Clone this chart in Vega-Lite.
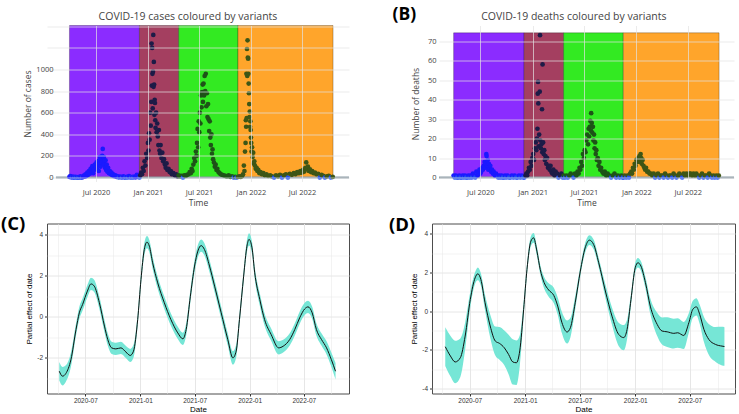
{
"$schema": "https://vega.github.io/schema/vega-lite/v6.json",
"padding": {"top": 5.5, "left": 0, "right": 0, "bottom": 0},
"background": "white",
"config": {"view": {"stroke": null}},
"datasets": {
"variants": [
{"v":"W","s":"2020-03-29","e":"2020-12-02"},
{"v":"A","s":"2020-12-02","e":"2021-04-20"},
{"v":"D","s":"2021-04-20","e":"2021-11-16"},
{"v":"O","s":"2021-11-16","e":"2022-10-19"}
],
"cases": [
{"d":"2020-03-29","c":5,"v":"W"},{"d":"2020-04-01","c":12,"v":"W"},{"d":"2020-04-04","c":3,"v":"W"},{"d":"2020-04-07","c":0,"v":"W"},{"d":"2020-04-10","c":8,"v":"W"},{"d":"2020-04-13","c":2,"v":"W"},{"d":"2020-04-16","c":0,"v":"W"},{"d":"2020-04-19","c":6,"v":"W"},{"d":"2020-04-22","c":0,"v":"W"},{"d":"2020-04-25","c":4,"v":"W"},{"d":"2020-04-28","c":0,"v":"W"},{"d":"2020-05-01","c":3,"v":"W"},{"d":"2020-05-04","c":0,"v":"W"},{"d":"2020-05-07","c":10,"v":"W"},{"d":"2020-05-10","c":2,"v":"W"},{"d":"2020-05-13","c":0,"v":"W"},{"d":"2020-05-16","c":5,"v":"W"},{"d":"2020-05-19","c":18,"v":"W"},{"d":"2020-05-22","c":8,"v":"W"},{"d":"2020-05-25","c":30,"v":"W"},{"d":"2020-05-28","c":15,"v":"W"},{"d":"2020-05-31","c":45,"v":"W"},{"d":"2020-06-03","c":25,"v":"W"},{"d":"2020-06-06","c":60,"v":"W"},{"d":"2020-06-09","c":35,"v":"W"},{"d":"2020-06-12","c":80,"v":"W"},{"d":"2020-06-15","c":50,"v":"W"},{"d":"2020-06-18","c":105,"v":"W"},{"d":"2020-06-21","c":40,"v":"W"},{"d":"2020-06-24","c":70,"v":"W"},{"d":"2020-06-27","c":120,"v":"W"},{"d":"2020-06-30","c":90,"v":"W"},{"d":"2020-07-03","c":140,"v":"W"},{"d":"2020-07-05","c":75,"v":"W"},{"d":"2020-07-07","c":110,"v":"W"},{"d":"2020-07-09","c":155,"v":"W"},{"d":"2020-07-11","c":60,"v":"W"},{"d":"2020-07-13","c":130,"v":"W"},{"d":"2020-07-15","c":190,"v":"W"},{"d":"2020-07-17","c":100,"v":"W"},{"d":"2020-07-19","c":170,"v":"W"},{"d":"2020-07-21","c":140,"v":"W"},{"d":"2020-07-23","c":200,"v":"W"},{"d":"2020-07-25","c":265,"v":"W"},{"d":"2020-07-27","c":120,"v":"W"},{"d":"2020-07-29","c":190,"v":"W"},{"d":"2020-07-31","c":150,"v":"W"},{"d":"2020-08-02","c":90,"v":"W"},{"d":"2020-08-04","c":160,"v":"W"},{"d":"2020-08-06","c":70,"v":"W"},{"d":"2020-08-08","c":120,"v":"W"},{"d":"2020-08-10","c":55,"v":"W"},{"d":"2020-08-13","c":90,"v":"W"},{"d":"2020-08-16","c":40,"v":"W"},{"d":"2020-08-19","c":60,"v":"W"},{"d":"2020-08-22","c":30,"v":"W"},{"d":"2020-08-25","c":45,"v":"W"},{"d":"2020-08-28","c":20,"v":"W"},{"d":"2020-08-31","c":30,"v":"W"},{"d":"2020-09-04","c":12,"v":"W"},{"d":"2020-09-08","c":20,"v":"W"},{"d":"2020-09-12","c":5,"v":"W"},{"d":"2020-09-16","c":10,"v":"W"},{"d":"2020-09-20","c":0,"v":"W"},{"d":"2020-09-24","c":8,"v":"W"},{"d":"2020-09-28","c":3,"v":"W"},{"d":"2020-10-02","c":0,"v":"W"},{"d":"2020-10-06","c":10,"v":"W"},{"d":"2020-10-10","c":2,"v":"W"},{"d":"2020-10-14","c":0,"v":"W"},{"d":"2020-10-18","c":5,"v":"W"},{"d":"2020-10-22","c":0,"v":"W"},{"d":"2020-10-26","c":12,"v":"W"},{"d":"2020-10-30","c":3,"v":"W"},{"d":"2020-11-03","c":0,"v":"W"},{"d":"2020-11-07","c":6,"v":"W"},{"d":"2020-11-11","c":0,"v":"W"},{"d":"2020-11-15","c":9,"v":"W"},{"d":"2020-11-19","c":2,"v":"W"},{"d":"2020-11-23","c":25,"v":"W"},{"d":"2020-11-27","c":5,"v":"W"},
{"d":"2020-12-02","c":0,"v":"A"},{"d":"2020-12-05","c":20,"v":"A"},{"d":"2020-12-08","c":45,"v":"A"},{"d":"2020-12-11","c":30,"v":"A"},{"d":"2020-12-14","c":90,"v":"A"},{"d":"2020-12-17","c":60,"v":"A"},{"d":"2020-12-20","c":150,"v":"A"},{"d":"2020-12-23","c":110,"v":"A"},{"d":"2020-12-26","c":220,"v":"A"},{"d":"2020-12-29","c":180,"v":"A"},{"d":"2021-01-01","c":320,"v":"A"},{"d":"2021-01-03","c":250,"v":"A"},{"d":"2021-01-05","c":410,"v":"A"},{"d":"2021-01-07","c":350,"v":"A"},{"d":"2021-01-09","c":600,"v":"A"},{"d":"2021-01-11","c":480,"v":"A"},{"d":"2021-01-13","c":700,"v":"A"},{"d":"2021-01-14","c":1240,"v":"A"},{"d":"2021-01-15","c":850,"v":"A"},{"d":"2021-01-16","c":1200,"v":"A"},{"d":"2021-01-17","c":960,"v":"A"},{"d":"2021-01-18","c":640,"v":"A"},{"d":"2021-01-19","c":980,"v":"A"},{"d":"2021-01-20","c":1320,"v":"A"},{"d":"2021-01-21","c":840,"v":"A"},{"d":"2021-01-22","c":1070,"v":"A"},{"d":"2021-01-23","c":860,"v":"A"},{"d":"2021-01-24","c":580,"v":"A"},{"d":"2021-01-25","c":720,"v":"A"},{"d":"2021-01-26","c":690,"v":"A"},{"d":"2021-01-27","c":530,"v":"A"},{"d":"2021-01-28","c":460,"v":"A"},{"d":"2021-01-30","c":600,"v":"A"},{"d":"2021-02-01","c":420,"v":"A"},{"d":"2021-02-03","c":500,"v":"A"},{"d":"2021-02-05","c":380,"v":"A"},{"d":"2021-02-07","c":300,"v":"A"},{"d":"2021-02-09","c":440,"v":"A"},{"d":"2021-02-11","c":250,"v":"A"},{"d":"2021-02-13","c":220,"v":"A"},{"d":"2021-02-15","c":300,"v":"A"},{"d":"2021-02-18","c":180,"v":"A"},{"d":"2021-02-21","c":230,"v":"A"},{"d":"2021-02-24","c":150,"v":"A"},{"d":"2021-02-27","c":170,"v":"A"},{"d":"2021-03-02","c":120,"v":"A"},{"d":"2021-03-05","c":90,"v":"A"},{"d":"2021-03-08","c":130,"v":"A"},{"d":"2021-03-11","c":70,"v":"A"},{"d":"2021-03-15","c":80,"v":"A"},{"d":"2021-03-19","c":50,"v":"A"},{"d":"2021-03-23","c":60,"v":"A"},{"d":"2021-03-27","c":30,"v":"A"},{"d":"2021-04-01","c":40,"v":"A"},{"d":"2021-04-06","c":20,"v":"A"},{"d":"2021-04-11","c":30,"v":"A"},{"d":"2021-04-16","c":10,"v":"A"},
{"d":"2021-04-20","c":20,"v":"D"},{"d":"2021-04-25","c":10,"v":"D"},{"d":"2021-04-30","c":15,"v":"D"},{"d":"2021-05-05","c":0,"v":"D"},{"d":"2021-05-10","c":20,"v":"D"},{"d":"2021-05-15","c":15,"v":"D"},{"d":"2021-05-20","c":25,"v":"D"},{"d":"2021-05-25","c":30,"v":"D"},{"d":"2021-05-29","c":50,"v":"D"},{"d":"2021-06-02","c":40,"v":"D"},{"d":"2021-06-05","c":80,"v":"D"},{"d":"2021-06-08","c":60,"v":"D"},{"d":"2021-06-11","c":120,"v":"D"},{"d":"2021-06-14","c":180,"v":"D"},{"d":"2021-06-17","c":150,"v":"D"},{"d":"2021-06-20","c":240,"v":"D"},{"d":"2021-06-22","c":200,"v":"D"},{"d":"2021-06-24","c":320,"v":"D"},{"d":"2021-06-26","c":450,"v":"D"},{"d":"2021-06-28","c":280,"v":"D"},{"d":"2021-06-30","c":520,"v":"D"},{"d":"2021-07-02","c":420,"v":"D"},{"d":"2021-07-04","c":600,"v":"D"},{"d":"2021-07-06","c":500,"v":"D"},{"d":"2021-07-08","c":760,"v":"D"},{"d":"2021-07-10","c":650,"v":"D"},{"d":"2021-07-12","c":790,"v":"D"},{"d":"2021-07-14","c":860,"v":"D"},{"d":"2021-07-15","c":700,"v":"D"},{"d":"2021-07-17","c":870,"v":"D"},{"d":"2021-07-19","c":760,"v":"D"},{"d":"2021-07-21","c":940,"v":"D"},{"d":"2021-07-23","c":800,"v":"D"},{"d":"2021-07-25","c":960,"v":"D"},{"d":"2021-07-27","c":660,"v":"D"},{"d":"2021-07-29","c":780,"v":"D"},{"d":"2021-07-31","c":560,"v":"D"},{"d":"2021-08-02","c":680,"v":"D"},{"d":"2021-08-04","c":540,"v":"D"},{"d":"2021-08-06","c":430,"v":"D"},{"d":"2021-08-08","c":520,"v":"D"},{"d":"2021-08-10","c":370,"v":"D"},{"d":"2021-08-12","c":300,"v":"D"},{"d":"2021-08-14","c":400,"v":"D"},{"d":"2021-08-16","c":220,"v":"D"},{"d":"2021-08-18","c":260,"v":"D"},{"d":"2021-08-20","c":170,"v":"D"},{"d":"2021-08-23","c":140,"v":"D"},{"d":"2021-08-26","c":100,"v":"D"},{"d":"2021-08-29","c":120,"v":"D"},{"d":"2021-09-01","c":70,"v":"D"},{"d":"2021-09-04","c":80,"v":"D"},{"d":"2021-09-08","c":50,"v":"D"},{"d":"2021-09-12","c":40,"v":"D"},{"d":"2021-09-16","c":30,"v":"D"},{"d":"2021-09-21","c":25,"v":"D"},{"d":"2021-09-26","c":20,"v":"D"},{"d":"2021-10-02","c":15,"v":"D"},{"d":"2021-10-08","c":10,"v":"D"},{"d":"2021-10-14","c":20,"v":"D"},{"d":"2021-10-20","c":5,"v":"D"},{"d":"2021-10-26","c":10,"v":"D"},{"d":"2021-11-01","c":0,"v":"D"},{"d":"2021-11-06","c":5,"v":"D"},{"d":"2021-11-11","c":0,"v":"D"},
{"d":"2021-11-16","c":5,"v":"O"},{"d":"2021-11-21","c":10,"v":"O"},{"d":"2021-11-26","c":5,"v":"O"},{"d":"2021-12-01","c":15,"v":"O"},{"d":"2021-12-04","c":30,"v":"O"},{"d":"2021-12-07","c":110,"v":"O"},{"d":"2021-12-09","c":60,"v":"O"},{"d":"2021-12-11","c":240,"v":"O"},{"d":"2021-12-13","c":320,"v":"O"},{"d":"2021-12-14","c":530,"v":"O"},{"d":"2021-12-15","c":470,"v":"O"},{"d":"2021-12-16","c":960,"v":"O"},{"d":"2021-12-17","c":550,"v":"O"},{"d":"2021-12-18","c":1190,"v":"O"},{"d":"2021-12-19","c":940,"v":"O"},{"d":"2021-12-20","c":1270,"v":"O"},{"d":"2021-12-21","c":1110,"v":"O"},{"d":"2021-12-22","c":1100,"v":"O"},{"d":"2021-12-23","c":960,"v":"O"},{"d":"2021-12-24","c":870,"v":"O"},{"d":"2021-12-25","c":780,"v":"O"},{"d":"2021-12-26","c":680,"v":"O"},{"d":"2021-12-27","c":560,"v":"O"},{"d":"2021-12-28","c":610,"v":"O"},{"d":"2021-12-29","c":470,"v":"O"},{"d":"2021-12-30","c":520,"v":"O"},{"d":"2021-12-31","c":440,"v":"O"},{"d":"2022-01-01","c":370,"v":"O"},{"d":"2022-01-02","c":320,"v":"O"},{"d":"2022-01-03","c":240,"v":"O"},{"d":"2022-01-05","c":280,"v":"O"},{"d":"2022-01-07","c":190,"v":"O"},{"d":"2022-01-09","c":230,"v":"O"},{"d":"2022-01-11","c":130,"v":"O"},{"d":"2022-01-13","c":150,"v":"O"},{"d":"2022-01-15","c":110,"v":"O"},{"d":"2022-01-18","c":80,"v":"O"},{"d":"2022-01-21","c":90,"v":"O"},{"d":"2022-01-24","c":60,"v":"O"},{"d":"2022-01-27","c":70,"v":"O"},{"d":"2022-01-31","c":40,"v":"O"},{"d":"2022-02-04","c":50,"v":"O"},{"d":"2022-02-09","c":30,"v":"O"},{"d":"2022-02-14","c":40,"v":"O"},{"d":"2022-02-19","c":20,"v":"O"},{"d":"2022-02-25","c":30,"v":"O"},{"d":"2022-03-03","c":15,"v":"O"},{"d":"2022-03-10","c":20,"v":"O"},{"d":"2022-03-17","c":10,"v":"O"},{"d":"2022-03-24","c":0,"v":"O"},{"d":"2022-03-31","c":20,"v":"O"},{"d":"2022-04-07","c":10,"v":"O"},{"d":"2022-04-14","c":25,"v":"O"},{"d":"2022-04-21","c":0,"v":"O"},{"d":"2022-04-28","c":20,"v":"O"},{"d":"2022-05-05","c":30,"v":"O"},{"d":"2022-05-12","c":0,"v":"O"},{"d":"2022-05-19","c":35,"v":"O"},{"d":"2022-05-26","c":25,"v":"O"},{"d":"2022-06-02","c":40,"v":"O"},{"d":"2022-06-08","c":30,"v":"O"},{"d":"2022-06-14","c":50,"v":"O"},{"d":"2022-06-20","c":40,"v":"O"},{"d":"2022-06-25","c":60,"v":"O"},{"d":"2022-06-30","c":45,"v":"O"},{"d":"2022-07-05","c":70,"v":"O"},{"d":"2022-07-09","c":55,"v":"O"},{"d":"2022-07-13","c":90,"v":"O"},{"d":"2022-07-16","c":140,"v":"O"},{"d":"2022-07-19","c":80,"v":"O"},{"d":"2022-07-22","c":100,"v":"O"},{"d":"2022-07-25","c":60,"v":"O"},{"d":"2022-07-29","c":75,"v":"O"},{"d":"2022-08-02","c":50,"v":"O"},{"d":"2022-08-06","c":60,"v":"O"},{"d":"2022-08-11","c":40,"v":"O"},{"d":"2022-08-16","c":45,"v":"O"},{"d":"2022-08-21","c":30,"v":"O"},{"d":"2022-08-27","c":35,"v":"O"},{"d":"2022-09-02","c":0,"v":"O"},{"d":"2022-09-08","c":25,"v":"O"},{"d":"2022-09-14","c":15,"v":"O"},{"d":"2022-09-20","c":0,"v":"O"},{"d":"2022-09-27","c":10,"v":"O"},{"d":"2022-10-04","c":15,"v":"O"},{"d":"2022-10-11","c":0,"v":"O"},{"d":"2022-10-18","c":5,"v":"O"}
],
"deaths": [
{"d":"2020-03-29","k":1,"v":"W"},{"d":"2020-04-02","k":0,"v":"W"},{"d":"2020-04-06","k":1,"v":"W"},{"d":"2020-04-10","k":0,"v":"W"},{"d":"2020-04-14","k":0,"v":"W"},{"d":"2020-04-18","k":1,"v":"W"},{"d":"2020-04-22","k":0,"v":"W"},{"d":"2020-04-26","k":0,"v":"W"},{"d":"2020-04-30","k":1,"v":"W"},{"d":"2020-05-04","k":0,"v":"W"},{"d":"2020-05-08","k":1,"v":"W"},{"d":"2020-05-12","k":0,"v":"W"},{"d":"2020-05-16","k":0,"v":"W"},{"d":"2020-05-20","k":1,"v":"W"},{"d":"2020-05-24","k":0,"v":"W"},{"d":"2020-05-28","k":1,"v":"W"},{"d":"2020-06-01","k":0,"v":"W"},{"d":"2020-06-05","k":2,"v":"W"},{"d":"2020-06-09","k":1,"v":"W"},{"d":"2020-06-13","k":0,"v":"W"},{"d":"2020-06-17","k":3,"v":"W"},{"d":"2020-06-21","k":1,"v":"W"},{"d":"2020-06-25","k":2,"v":"W"},{"d":"2020-06-28","k":4,"v":"W"},{"d":"2020-07-01","k":2,"v":"W"},{"d":"2020-07-04","k":3,"v":"W"},{"d":"2020-07-07","k":5,"v":"W"},{"d":"2020-07-10","k":4,"v":"W"},{"d":"2020-07-13","k":6,"v":"W"},{"d":"2020-07-16","k":8,"v":"W"},{"d":"2020-07-18","k":5,"v":"W"},{"d":"2020-07-20","k":7,"v":"W"},{"d":"2020-07-22","k":12,"v":"W"},{"d":"2020-07-23","k":11,"v":"W"},{"d":"2020-07-25","k":6,"v":"W"},{"d":"2020-07-27","k":9,"v":"W"},{"d":"2020-07-29","k":4,"v":"W"},{"d":"2020-07-31","k":7,"v":"W"},{"d":"2020-08-02","k":5,"v":"W"},{"d":"2020-08-05","k":6,"v":"W"},{"d":"2020-08-08","k":3,"v":"W"},{"d":"2020-08-11","k":4,"v":"W"},{"d":"2020-08-14","k":2,"v":"W"},{"d":"2020-08-17","k":3,"v":"W"},{"d":"2020-08-21","k":1,"v":"W"},{"d":"2020-08-25","k":2,"v":"W"},{"d":"2020-08-29","k":1,"v":"W"},{"d":"2020-09-02","k":0,"v":"W"},{"d":"2020-09-06","k":1,"v":"W"},{"d":"2020-09-10","k":0,"v":"W"},{"d":"2020-09-14","k":1,"v":"W"},{"d":"2020-09-18","k":0,"v":"W"},{"d":"2020-09-22","k":0,"v":"W"},{"d":"2020-09-26","k":1,"v":"W"},{"d":"2020-09-30","k":0,"v":"W"},{"d":"2020-10-05","k":1,"v":"W"},{"d":"2020-10-10","k":0,"v":"W"},{"d":"2020-10-15","k":0,"v":"W"},{"d":"2020-10-20","k":1,"v":"W"},{"d":"2020-10-25","k":0,"v":"W"},{"d":"2020-10-30","k":1,"v":"W"},{"d":"2020-11-04","k":0,"v":"W"},{"d":"2020-11-09","k":0,"v":"W"},{"d":"2020-11-14","k":1,"v":"W"},{"d":"2020-11-19","k":0,"v":"W"},{"d":"2020-11-24","k":1,"v":"W"},{"d":"2020-11-29","k":0,"v":"W"},
{"d":"2020-12-03","k":0,"v":"A"},{"d":"2020-12-07","k":1,"v":"A"},{"d":"2020-12-10","k":2,"v":"A"},{"d":"2020-12-13","k":1,"v":"A"},{"d":"2020-12-16","k":3,"v":"A"},{"d":"2020-12-19","k":5,"v":"A"},{"d":"2020-12-22","k":4,"v":"A"},{"d":"2020-12-25","k":8,"v":"A"},{"d":"2020-12-28","k":6,"v":"A"},{"d":"2020-12-31","k":10,"v":"A"},{"d":"2021-01-03","k":12,"v":"A"},{"d":"2021-01-06","k":9,"v":"A"},{"d":"2021-01-09","k":15,"v":"A"},{"d":"2021-01-12","k":18,"v":"A"},{"d":"2021-01-14","k":14,"v":"A"},{"d":"2021-01-16","k":20,"v":"A"},{"d":"2021-01-18","k":25,"v":"A"},{"d":"2021-01-19","k":43,"v":"A"},{"d":"2021-01-20","k":49,"v":"A"},{"d":"2021-01-21","k":38,"v":"A"},{"d":"2021-01-22","k":16,"v":"A"},{"d":"2021-01-24","k":22,"v":"A"},{"d":"2021-01-26","k":44,"v":"A"},{"d":"2021-01-27","k":73,"v":"A"},{"d":"2021-01-28","k":19,"v":"A"},{"d":"2021-01-30","k":15,"v":"A"},{"d":"2021-02-01","k":17,"v":"A"},{"d":"2021-02-03","k":35,"v":"A"},{"d":"2021-02-04","k":13,"v":"A"},{"d":"2021-02-05","k":58,"v":"A"},{"d":"2021-02-07","k":18,"v":"A"},{"d":"2021-02-09","k":12,"v":"A"},{"d":"2021-02-11","k":14,"v":"A"},{"d":"2021-02-13","k":9,"v":"A"},{"d":"2021-02-15","k":11,"v":"A"},{"d":"2021-02-18","k":7,"v":"A"},{"d":"2021-02-21","k":10,"v":"A"},{"d":"2021-02-24","k":5,"v":"A"},{"d":"2021-02-27","k":6,"v":"A"},{"d":"2021-03-02","k":4,"v":"A"},{"d":"2021-03-05","k":6,"v":"A"},{"d":"2021-03-08","k":3,"v":"A"},{"d":"2021-03-11","k":2,"v":"A"},{"d":"2021-03-15","k":4,"v":"A"},{"d":"2021-03-19","k":1,"v":"A"},{"d":"2021-03-23","k":3,"v":"A"},{"d":"2021-03-28","k":2,"v":"A"},{"d":"2021-04-02","k":0,"v":"A"},{"d":"2021-04-07","k":1,"v":"A"},{"d":"2021-04-12","k":2,"v":"A"},{"d":"2021-04-17","k":0,"v":"A"},
{"d":"2021-04-20","k":1,"v":"D"},{"d":"2021-04-25","k":0,"v":"D"},{"d":"2021-04-30","k":1,"v":"D"},{"d":"2021-05-05","k":0,"v":"D"},{"d":"2021-05-10","k":1,"v":"D"},{"d":"2021-05-15","k":2,"v":"D"},{"d":"2021-05-20","k":1,"v":"D"},{"d":"2021-05-25","k":0,"v":"D"},{"d":"2021-05-30","k":2,"v":"D"},{"d":"2021-06-04","k":1,"v":"D"},{"d":"2021-06-08","k":3,"v":"D"},{"d":"2021-06-12","k":2,"v":"D"},{"d":"2021-06-15","k":5,"v":"D"},{"d":"2021-06-18","k":4,"v":"D"},{"d":"2021-06-21","k":8,"v":"D"},{"d":"2021-06-24","k":6,"v":"D"},{"d":"2021-06-27","k":12,"v":"D"},{"d":"2021-06-30","k":10,"v":"D"},{"d":"2021-07-03","k":14,"v":"D"},{"d":"2021-07-06","k":13,"v":"D"},{"d":"2021-07-09","k":19,"v":"D"},{"d":"2021-07-12","k":22,"v":"D"},{"d":"2021-07-15","k":17,"v":"D"},{"d":"2021-07-17","k":25,"v":"D"},{"d":"2021-07-19","k":21,"v":"D"},{"d":"2021-07-21","k":26,"v":"D"},{"d":"2021-07-23","k":29,"v":"D"},{"d":"2021-07-25","k":24,"v":"D"},{"d":"2021-07-26","k":33,"v":"D"},{"d":"2021-07-28","k":28,"v":"D"},{"d":"2021-07-30","k":23,"v":"D"},{"d":"2021-08-01","k":26,"v":"D"},{"d":"2021-08-03","k":19,"v":"D"},{"d":"2021-08-05","k":22,"v":"D"},{"d":"2021-08-07","k":15,"v":"D"},{"d":"2021-08-09","k":18,"v":"D"},{"d":"2021-08-11","k":12,"v":"D"},{"d":"2021-08-13","k":14,"v":"D"},{"d":"2021-08-15","k":9,"v":"D"},{"d":"2021-08-18","k":10,"v":"D"},{"d":"2021-08-21","k":6,"v":"D"},{"d":"2021-08-24","k":8,"v":"D"},{"d":"2021-08-27","k":4,"v":"D"},{"d":"2021-08-30","k":5,"v":"D"},{"d":"2021-09-03","k":3,"v":"D"},{"d":"2021-09-07","k":2,"v":"D"},{"d":"2021-09-12","k":3,"v":"D"},{"d":"2021-09-17","k":1,"v":"D"},{"d":"2021-09-22","k":2,"v":"D"},{"d":"2021-09-28","k":1,"v":"D"},{"d":"2021-10-04","k":0,"v":"D"},{"d":"2021-10-10","k":1,"v":"D"},{"d":"2021-10-16","k":2,"v":"D"},{"d":"2021-10-22","k":0,"v":"D"},{"d":"2021-10-28","k":1,"v":"D"},{"d":"2021-11-03","k":0,"v":"D"},{"d":"2021-11-09","k":1,"v":"D"},{"d":"2021-11-14","k":0,"v":"D"},
{"d":"2021-11-16","k":0,"v":"O"},{"d":"2021-11-21","k":1,"v":"O"},{"d":"2021-11-26","k":0,"v":"O"},{"d":"2021-12-01","k":1,"v":"O"},{"d":"2021-12-06","k":0,"v":"O"},{"d":"2021-12-10","k":2,"v":"O"},{"d":"2021-12-14","k":3,"v":"O"},{"d":"2021-12-17","k":2,"v":"O"},{"d":"2021-12-20","k":5,"v":"O"},{"d":"2021-12-23","k":4,"v":"O"},{"d":"2021-12-26","k":7,"v":"O"},{"d":"2021-12-29","k":6,"v":"O"},{"d":"2022-01-01","k":9,"v":"O"},{"d":"2022-01-04","k":8,"v":"O"},{"d":"2022-01-07","k":10,"v":"O"},{"d":"2022-01-10","k":9,"v":"O"},{"d":"2022-01-12","k":11,"v":"O"},{"d":"2022-01-14","k":8,"v":"O"},{"d":"2022-01-16","k":12,"v":"O"},{"d":"2022-01-18","k":10,"v":"O"},{"d":"2022-01-20","k":7,"v":"O"},{"d":"2022-01-23","k":9,"v":"O"},{"d":"2022-01-26","k":6,"v":"O"},{"d":"2022-01-29","k":5,"v":"O"},{"d":"2022-02-01","k":4,"v":"O"},{"d":"2022-02-04","k":5,"v":"O"},{"d":"2022-02-08","k":3,"v":"O"},{"d":"2022-02-12","k":3,"v":"O"},{"d":"2022-02-16","k":2,"v":"O"},{"d":"2022-02-21","k":2,"v":"O"},{"d":"2022-02-26","k":1,"v":"O"},{"d":"2022-03-03","k":2,"v":"O"},{"d":"2022-03-08","k":0,"v":"O"},{"d":"2022-03-13","k":1,"v":"O"},{"d":"2022-03-18","k":2,"v":"O"},{"d":"2022-03-23","k":0,"v":"O"},{"d":"2022-03-28","k":1,"v":"O"},{"d":"2022-04-02","k":1,"v":"O"},{"d":"2022-04-07","k":0,"v":"O"},{"d":"2022-04-12","k":2,"v":"O"},{"d":"2022-04-17","k":1,"v":"O"},{"d":"2022-04-22","k":0,"v":"O"},{"d":"2022-04-27","k":1,"v":"O"},{"d":"2022-05-02","k":1,"v":"O"},{"d":"2022-05-07","k":0,"v":"O"},{"d":"2022-05-12","k":2,"v":"O"},{"d":"2022-05-17","k":1,"v":"O"},{"d":"2022-05-22","k":0,"v":"O"},{"d":"2022-05-27","k":1,"v":"O"},{"d":"2022-06-01","k":2,"v":"O"},{"d":"2022-06-06","k":1,"v":"O"},{"d":"2022-06-11","k":0,"v":"O"},{"d":"2022-06-16","k":2,"v":"O"},{"d":"2022-06-21","k":1,"v":"O"},{"d":"2022-06-26","k":2,"v":"O"},{"d":"2022-07-01","k":1,"v":"O"},{"d":"2022-07-06","k":2,"v":"O"},{"d":"2022-07-11","k":2,"v":"O"},{"d":"2022-07-16","k":1,"v":"O"},{"d":"2022-07-21","k":2,"v":"O"},{"d":"2022-07-26","k":1,"v":"O"},{"d":"2022-07-31","k":2,"v":"O"},{"d":"2022-08-05","k":1,"v":"O"},{"d":"2022-08-10","k":0,"v":"O"},{"d":"2022-08-15","k":1,"v":"O"},{"d":"2022-08-20","k":2,"v":"O"},{"d":"2022-08-25","k":0,"v":"O"},{"d":"2022-08-30","k":1,"v":"O"},{"d":"2022-09-04","k":1,"v":"O"},{"d":"2022-09-09","k":0,"v":"O"},{"d":"2022-09-14","k":2,"v":"O"},{"d":"2022-09-19","k":1,"v":"O"},{"d":"2022-09-24","k":0,"v":"O"},{"d":"2022-09-29","k":1,"v":"O"},{"d":"2022-10-04","k":0,"v":"O"},{"d":"2022-10-09","k":1,"v":"O"},{"d":"2022-10-14","k":0,"v":"O"},{"d":"2022-10-18","k":1,"v":"O"}
],
"gamC": [
{"d":"2020-04-05","f":-2.67,"lo":-3.12,"hi":-2.22},{"d":"2020-04-16","f":-2.91,"lo":-3.36,"hi":-2.46},{"d":"2020-04-27","f":-2.78,"lo":-3.18,"hi":-2.38},{"d":"2020-05-14","f":-2.1,"lo":-2.45,"hi":-1.75},{"d":"2020-05-31","f":-0.63,"lo":-0.93,"hi":-0.33},{"d":"2020-06-11","f":0.18,"lo":-0.12,"hi":0.48},{"d":"2020-06-22","f":0.59,"lo":0.29,"hi":0.89},{"d":"2020-07-08","f":1.24,"lo":0.94,"hi":1.54},{"d":"2020-07-20","f":1.59,"lo":1.29,"hi":1.89},{"d":"2020-07-31","f":1.48,"lo":1.18,"hi":1.78},{"d":"2020-08-17","f":0.67,"lo":0.37,"hi":0.97},{"d":"2020-09-03","f":-0.47,"lo":-0.77,"hi":-0.17},{"d":"2020-09-14","f":-1.12,"lo":-1.42,"hi":-0.82},{"d":"2020-09-27","f":-1.53,"lo":-1.83,"hi":-1.23},{"d":"2020-10-11","f":-1.58,"lo":-1.88,"hi":-1.28},{"d":"2020-10-28","f":-1.53,"lo":-1.83,"hi":-1.23},{"d":"2020-11-14","f":-1.74,"lo":-2.04,"hi":-1.44},{"d":"2020-11-28","f":-1.9,"lo":-2.22,"hi":-1.58},{"d":"2020-12-09","f":-1.69,"lo":-2.0,"hi":-1.38},{"d":"2020-12-23","f":-0.15,"lo":-0.45,"hi":0.15},{"d":"2021-01-03","f":1.8,"lo":1.5,"hi":2.1},{"d":"2021-01-14","f":3.27,"lo":2.97,"hi":3.57},{"d":"2021-01-23","f":3.63,"lo":3.33,"hi":3.93},{"d":"2021-01-31","f":3.43,"lo":3.13,"hi":3.73},{"d":"2021-02-11","f":2.62,"lo":2.32,"hi":2.92},{"d":"2021-02-28","f":1.64,"lo":1.34,"hi":1.94},{"d":"2021-03-22","f":0.67,"lo":0.37,"hi":0.97},{"d":"2021-04-13","f":-0.15,"lo":-0.45,"hi":0.15},{"d":"2021-05-06","f":-0.8,"lo":-1.1,"hi":-0.5},{"d":"2021-05-23","f":-1.09,"lo":-1.39,"hi":-0.79},{"d":"2021-06-03","f":-0.63,"lo":-0.93,"hi":-0.33},{"d":"2021-06-17","f":0.99,"lo":0.69,"hi":1.29},{"d":"2021-07-01","f":2.46,"lo":2.16,"hi":2.76},{"d":"2021-07-12","f":3.19,"lo":2.89,"hi":3.49},{"d":"2021-07-23","f":3.46,"lo":3.16,"hi":3.76},{"d":"2021-08-03","f":3.27,"lo":2.97,"hi":3.57},{"d":"2021-08-20","f":2.46,"lo":2.16,"hi":2.76},{"d":"2021-09-06","f":1.48,"lo":1.18,"hi":1.78},{"d":"2021-09-28","f":0.18,"lo":-0.12,"hi":0.48},{"d":"2021-10-20","f":-1.12,"lo":-1.42,"hi":-0.82},{"d":"2021-11-06","f":-2.02,"lo":-2.35,"hi":-1.69},{"d":"2021-11-17","f":-1.69,"lo":-2.0,"hi":-1.38},{"d":"2021-11-28","f":-0.15,"lo":-0.45,"hi":0.15},{"d":"2021-12-12","f":1.97,"lo":1.67,"hi":2.27},{"d":"2021-12-23","f":3.43,"lo":3.13,"hi":3.73},{"d":"2021-12-30","f":3.76,"lo":3.46,"hi":4.06},{"d":"2022-01-09","f":3.35,"lo":3.05,"hi":3.65},{"d":"2022-01-18","f":2.13,"lo":1.83,"hi":2.43},{"d":"2022-02-04","f":0.83,"lo":0.53,"hi":1.13},{"d":"2022-02-20","f":-0.15,"lo":-0.45,"hi":0.15},{"d":"2022-03-14","f":-0.88,"lo":-1.18,"hi":-0.58},{"d":"2022-04-08","f":-1.53,"lo":-1.85,"hi":-1.21},{"d":"2022-04-23","f":-1.45,"lo":-1.76,"hi":-1.14},{"d":"2022-05-15","f":-1.12,"lo":-1.42,"hi":-0.82},{"d":"2022-06-01","f":-0.63,"lo":-0.93,"hi":-0.33},{"d":"2022-06-17","f":-0.07,"lo":-0.37,"hi":0.23},{"d":"2022-07-04","f":0.37,"lo":0.07,"hi":0.67},{"d":"2022-07-15","f":0.47,"lo":0.17,"hi":0.77},{"d":"2022-07-29","f":0.18,"lo":-0.12,"hi":0.48},{"d":"2022-08-12","f":-0.63,"lo":-0.93,"hi":-0.33},{"d":"2022-08-29","f":-1.12,"lo":-1.42,"hi":-0.82},{"d":"2022-09-15","f":-1.53,"lo":-1.85,"hi":-1.21},{"d":"2022-10-01","f":-2.1,"lo":-2.45,"hi":-1.75},{"d":"2022-10-15","f":-2.67,"lo":-3.07,"hi":-2.27}
],
"gamD": [
{"d":"2020-04-11","f":-1.84,"lo":-2.84,"hi":-0.84},{"d":"2020-04-28","f":-2.32,"lo":-3.37,"hi":-1.27},{"d":"2020-05-14","f":-2.63,"lo":-3.73,"hi":-1.53},{"d":"2020-05-31","f":-2.41,"lo":-3.41,"hi":-1.41},{"d":"2020-06-16","f":-1.29,"lo":-1.99,"hi":-0.59},{"d":"2020-07-03","f":0.6,"lo":0.2,"hi":1.0},{"d":"2020-07-19","f":1.72,"lo":1.42,"hi":2.02},{"d":"2020-07-28","f":1.93,"lo":1.6,"hi":2.26},{"d":"2020-08-07","f":1.64,"lo":1.32,"hi":1.96},{"d":"2020-08-21","f":0.43,"lo":0.03,"hi":0.83},{"d":"2020-09-07","f":-0.77,"lo":-1.37,"hi":-0.17},{"d":"2020-09-24","f":-1.55,"lo":-2.3,"hi":-0.8},{"d":"2020-10-08","f":-1.67,"lo":-2.52,"hi":-0.82},{"d":"2020-10-24","f":-1.9,"lo":-2.8,"hi":-1.0},{"d":"2020-11-07","f":-2.24,"lo":-3.26,"hi":-1.22},{"d":"2020-11-21","f":-2.63,"lo":-3.8,"hi":-1.46},{"d":"2020-12-03","f":-2.67,"lo":-3.82,"hi":-1.52},{"d":"2020-12-14","f":-2.06,"lo":-2.86,"hi":-1.26},{"d":"2020-12-27","f":0.09,"lo":-0.31,"hi":0.49},{"d":"2021-01-07","f":2.15,"lo":1.85,"hi":2.45},{"d":"2021-01-20","f":3.62,"lo":3.37,"hi":3.87},{"d":"2021-01-29","f":3.79,"lo":3.54,"hi":4.04},{"d":"2021-02-09","f":3.1,"lo":2.85,"hi":3.35},{"d":"2021-02-20","f":2.15,"lo":1.9,"hi":2.4},{"d":"2021-03-05","f":1.47,"lo":1.17,"hi":1.77},{"d":"2021-03-20","f":1.09,"lo":0.74,"hi":1.44},{"d":"2021-04-06","f":0.81,"lo":0.41,"hi":1.21},{"d":"2021-04-19","f":0.26,"lo":-0.19,"hi":0.71},{"d":"2021-05-03","f":-0.6,"lo":-1.15,"hi":-0.05},{"d":"2021-05-20","f":-1.08,"lo":-1.68,"hi":-0.48},{"d":"2021-05-31","f":-0.86,"lo":-1.36,"hi":-0.36},{"d":"2021-06-16","f":0.43,"lo":0.08,"hi":0.78},{"d":"2021-07-03","f":2.07,"lo":1.82,"hi":2.32},{"d":"2021-07-19","f":3.27,"lo":3.02,"hi":3.52},{"d":"2021-08-02","f":3.67,"lo":3.42,"hi":3.92},{"d":"2021-08-16","f":3.45,"lo":3.2,"hi":3.7},{"d":"2021-09-02","f":2.5,"lo":2.25,"hi":2.75},{"d":"2021-09-24","f":1.04,"lo":0.69,"hi":1.39},{"d":"2021-10-16","f":-0.26,"lo":-0.71,"hi":0.19},{"d":"2021-11-07","f":-1.2,"lo":-1.8,"hi":-0.6},{"d":"2021-11-24","f":-1.37,"lo":-2.02,"hi":-0.72},{"d":"2021-12-05","f":-0.95,"lo":-1.45,"hi":-0.45},{"d":"2021-12-18","f":0.6,"lo":0.3,"hi":0.9},{"d":"2022-01-01","f":2.24,"lo":1.99,"hi":2.49},{"d":"2022-01-10","f":2.5,"lo":2.25,"hi":2.75},{"d":"2022-01-20","f":2.33,"lo":2.08,"hi":2.58},{"d":"2022-02-04","f":1.47,"lo":1.17,"hi":1.77},{"d":"2022-02-20","f":0.26,"lo":-0.14,"hi":0.66},{"d":"2022-03-15","f":-0.69,"lo":-1.29,"hi":-0.09},{"d":"2022-03-31","f":-1.03,"lo":-1.73,"hi":-0.33},{"d":"2022-04-17","f":-1.07,"lo":-1.85,"hi":-0.32},{"d":"2022-05-09","f":-1.15,"lo":-1.93,"hi":-0.4},{"d":"2022-05-22","f":-1.12,"lo":-1.9,"hi":-0.37},{"d":"2022-06-11","f":-1.26,"lo":-1.96,"hi":-0.56},{"d":"2022-06-28","f":-0.6,"lo":-1.1,"hi":-0.1},{"d":"2022-07-11","f":0.09,"lo":-0.36,"hi":0.54},{"d":"2022-07-23","f":0.22,"lo":-0.23,"hi":0.67},{"d":"2022-08-03","f":-0.17,"lo":-0.67,"hi":0.33},{"d":"2022-08-17","f":-0.95,"lo":-1.6,"hi":-0.3},{"d":"2022-09-02","f":-1.46,"lo":-2.26,"hi":-0.66},{"d":"2022-09-24","f":-1.72,"lo":-2.62,"hi":-0.82},{"d":"2022-10-16","f":-1.81,"lo":-2.81,"hi":-0.81},{"d":"2022-10-24","f":-1.83,"lo":-2.83,"hi":-0.83}
]
},
"spacing": 8,
"vconcat": [
{
"spacing": 42,
"hconcat": [
{
"width": 302, "height": 156,
"resolve": {"scale": {"color": "independent"}},
"layer": [
{"data": {"name": "variants"},
 "mark": {"type": "rect", "stroke": "#000000", "strokeOpacity": 0.25, "strokeWidth": 1},
 "encoding": {
  "x": {"field": "s", "type": "temporal", "title": "Time",
   "scale": {"type": "utc", "nice": false, "domain": [{"year":2020,"month":1,"date":9,"hours":10,"utc":true},{"year":2022,"month":12,"date":14,"hours":12,"utc":true}]},
   "axis": {"format": "%b %Y", "tickCount": {"interval": "month", "step": 6}, "labelFont": "Open Sans", "labelFontSize": 7.5, "labelColor": "#444444", "labelPadding": 7, "ticks": false, "tickSize": 0, "domain": false, "grid": true, "gridColor": "#e2e2e2", "gridOpacity": 0.7, "titleFont": "Open Sans", "titleFontSize": 8.5, "titleFontWeight": "normal", "titleColor": "#444444", "titlePadding": 2, "zindex": 1, "labelFlush": false, "labelOverlap": false}},
  "x2": {"field": "e"},
  "y": {"datum": 0, "type": "quantitative"},
  "y2": {"datum": 1407.4},
  "color": {"field": "v", "type": "nominal", "legend": null, "scale": {"domain": ["W","A","D","O"], "range": ["#8b2cff","#a43f60","#33ea22","#ffa52b"]}}
 }},
{"data": {"values": [{}]},
 "mark": {"type": "rule", "color": "#8c9ba5", "strokeWidth": 2},
 "encoding": {"y": {"datum": 0, "type": "quantitative"}, "x": {"datum": {"year":2020,"month":2,"date":10,"utc":true}, "type": "temporal"}, "x2": {"datum": {"year":2022,"month":12,"date":14,"hours":12,"utc":true}}}},
{"data": {"name": "cases"},
 "mark": {"type": "circle", "size": 22, "opacity": 1},
 "encoding": {
  "x": {"field": "d", "type": "temporal", "title": "Time"},
  "y": {"field": "c", "type": "quantitative", "title": "Number of cases",
   "scale": {"domain": [-37, 1407.4], "nice": false, "zero": false},
   "axis": {"values": [0,200,400,600,800,1000,1200,1400], "tickCount": 20, "format": "d", "labelExpr": "datum.value <= 1000 ? datum.label : ''", "labelOverlap": false, "labelFont": "Open Sans", "labelFontSize": 7.5, "labelColor": "#444444", "labelPadding": -6, "ticks": false, "tickSize": 0, "domain": false, "grid": true, "gridColor": "#e2e2e2", "gridOpacity": 0.7, "titleFont": "Open Sans", "titleFontSize": 8.5, "titleFontWeight": "normal", "titleColor": "#444444", "titlePadding": 3, "zindex": 1}},
  "color": {"field": "v", "type": "nominal", "legend": null, "condition": {"test": "datum.c === 0", "value": "#2050f0"}, "scale": {"domain": ["W","A","D","O"], "range": ["#1a1aff","#1d1b47","#1e5318","#3e5616"]}}
 }},
{"data": {"values": [{}]},
 "mark": {"type": "text", "text": "COVID-19 cases coloured by variants", "align": "center", "baseline": "alphabetic", "font": "Open Sans", "fontSize": 10.5, "color": "#444444"},
 "encoding": {"x": {"datum": {"year":2021,"month":5,"date":23,"utc":true}, "type": "temporal"}, "y": {"datum": 1458.3, "type": "quantitative"}}}
]
},
{
"width": 295, "height": 156,
"resolve": {"scale": {"color": "independent"}},
"layer": [
{"data": {"name": "variants"},
 "mark": {"type": "rect", "stroke": "#000000", "strokeOpacity": 0.25, "strokeWidth": 1},
 "encoding": {
  "x": {"field": "s", "type": "temporal", "title": "Time",
   "scale": {"type": "utc", "nice": false, "domain": [{"year":2020,"month":2,"date":6,"hours":14,"utc":true},{"year":2022,"month":12,"date":10,"hours":12,"utc":true}]},
   "axis": {"format": "%b %Y", "tickCount": {"interval": "month", "step": 6}, "labelFont": "Open Sans", "labelFontSize": 7.5, "labelColor": "#444444", "labelPadding": 7, "ticks": false, "tickSize": 0, "domain": false, "grid": true, "gridColor": "#e2e2e2", "gridOpacity": 0.7, "titleFont": "Open Sans", "titleFontSize": 8.5, "titleFontWeight": "normal", "titleColor": "#444444", "titlePadding": 2, "zindex": 1, "labelFlush": false, "labelOverlap": false}},
  "x2": {"field": "e"},
  "y": {"datum": 0, "type": "quantitative"},
  "y2": {"datum": 74.2},
  "color": {"field": "v", "type": "nominal", "legend": null, "scale": {"domain": ["W","A","D","O"], "range": ["#8b2cff","#a43f60","#33ea22","#ffa52b"]}}
 }},
{"data": {"values": [{}]},
 "mark": {"type": "rule", "color": "#8c9ba5", "strokeWidth": 2},
 "encoding": {"y": {"datum": 0, "type": "quantitative"}, "x": {"datum": {"year":2020,"month":2,"date":6,"hours":14,"utc":true}, "type": "temporal"}, "x2": {"datum": {"year":2022,"month":12,"date":10,"hours":12,"utc":true}}}},
{"data": {"name": "deaths"},
 "mark": {"type": "circle", "size": 22, "opacity": 1},
 "encoding": {
  "x": {"field": "d", "type": "temporal", "title": "Time"},
  "y": {"field": "k", "type": "quantitative", "title": "Number of deaths",
   "scale": {"domain": [-2.05, 77.95], "nice": false, "zero": false},
   "axis": {"values": [0,10,20,30,40,50,60,70], "tickCount": 20, "format": "d", "labelOverlap": false, "labelFont": "Open Sans", "labelFontSize": 7.5, "labelColor": "#444444", "labelPadding": 3, "ticks": false, "tickSize": 0, "domain": false, "grid": true, "gridColor": "#e2e2e2", "gridOpacity": 0.7, "titleFont": "Open Sans", "titleFontSize": 8.5, "titleFontWeight": "normal", "titleColor": "#444444", "titlePadding": 7, "zindex": 1}},
  "color": {"field": "v", "type": "nominal", "legend": null, "condition": {"test": "datum.k === 0", "value": "#2050f0"}, "scale": {"domain": ["W","A","D","O"], "range": ["#1a1aff","#1d1b47","#1e5318","#3e5616"]}}
 }},
{"data": {"values": [{}]},
 "mark": {"type": "text", "text": "COVID-19 deaths coloured by variants", "align": "center", "baseline": "alphabetic", "font": "Open Sans", "fontSize": 10.5, "color": "#444444"},
 "encoding": {"x": {"datum": {"year":2021,"month":5,"date":26,"utc":true}, "type": "temporal"}, "y": {"datum": 80.87, "type": "quantitative"}}},
{"data": {"values": [{}]},
 "mark": {"type": "text", "text": "(B)", "align": "left", "baseline": "alphabetic", "font": "Open Sans", "fontSize": 17.5, "fontWeight": "bold", "color": "#000000"},
 "encoding": {"x": {"datum": {"year":2019,"month":8,"date":27,"utc":true}, "type": "temporal"}, "y": {"datum": 80.77, "type": "quantitative"}}}
]
}
]
},
{
"spacing": 38,
"hconcat": [
{
"width": 302, "height": 170,
"view": {"stroke": "#4d4d4d", "strokeWidth": 1},
"data": {"name": "gamC"},
"layer": [
{"mark": {"type": "area", "color": "#76e6d6", "opacity": 1, "interpolate": "monotone"},
 "encoding": {
  "x": {"field": "d", "type": "temporal", "title": "Date",
   "scale": {"type": "utc", "nice": false, "domain": [{"year":2020,"month":2,"date":24,"utc":true},{"year":2022,"month":11,"date":29,"utc":true}]},
   "axis": {"tickCount": {"interval": "month", "step": 3}, "labelExpr": "utcmonth(datum.value) % 6 == 0 ? utcFormat(datum.value, '%Y-%m') : ''", "labelFont": "Liberation Sans", "labelFontSize": 6.5, "labelColor": "#333333", "labelPadding": 1.5, "ticks": true, "tickSize": 2.5, "tickColor": "#333333", "tickOpacity": {"condition": {"test": "utcmonth(datum.value) % 6 == 0", "value": 1}, "value": 0}, "domain": false, "grid": true, "gridColor": "#e6e6e6", "gridWidth": {"condition": {"test": "utcmonth(datum.value) % 6 == 0", "value": 1}, "value": 0.5}, "titleFont": "Liberation Sans", "titleFontSize": 8, "titleFontWeight": "normal", "titleColor": "#000000", "titlePadding": 1.5, "labelFlush": false, "labelOverlap": false}},
  "y": {"field": "lo", "type": "quantitative", "title": "Partial effect of date",
   "scale": {"domain": [-3.756, 4.537], "nice": false, "zero": false},
   "axis": {"values": [-3,-2,-1,0,1,2,3,4], "tickCount": 20, "labelExpr": "datum.value % 2 == 0 ? '' + datum.value : ''", "labelOverlap": false, "labelFont": "Liberation Sans", "labelFontSize": 6.5, "labelColor": "#333333", "labelPadding": 2, "ticks": true, "tickSize": 2.5, "tickColor": "#333333", "tickOpacity": {"condition": {"test": "datum.value % 2 == 0", "value": 1}, "value": 0}, "domain": false, "grid": true, "gridColor": "#e6e6e6", "gridWidth": {"condition": {"test": "datum.value % 2 == 0", "value": 1}, "value": 0.5}, "titleFont": "Liberation Sans", "titleFontSize": 8, "titleFontWeight": "normal", "titleColor": "#000000", "titlePadding": 3}},
  "y2": {"field": "hi"}
 }},
{"mark": {"type": "line", "color": "#111111", "strokeWidth": 1, "interpolate": "monotone"},
 "encoding": {"x": {"field": "d", "type": "temporal", "title": "Date"}, "y": {"field": "f", "type": "quantitative", "title": "Partial effect of date"}}},
{"data": {"values": [{}]},
 "mark": {"type": "text", "text": "(C)", "align": "left", "baseline": "alphabetic", "font": "Open Sans", "fontSize": 18.5, "fontWeight": "bold", "color": "#000000"},
 "encoding": {"x": {"datum": {"year":2019,"month":9,"date":23,"utc":true}, "type": "temporal"}, "y": {"datum": 4.196, "type": "quantitative"}}}
]
},
{
"width": 303, "height": 170,
"view": {"stroke": "#4d4d4d", "strokeWidth": 1},
"data": {"name": "gamD"},
"layer": [
{"mark": {"type": "area", "color": "#76e6d6", "opacity": 1, "interpolate": "monotone"},
 "encoding": {
  "x": {"field": "d", "type": "temporal", "title": "Date",
   "scale": {"type": "utc", "nice": false, "domain": [{"year":2020,"month":2,"date":27,"utc":true},{"year":2022,"month":11,"date":28,"utc":true}]},
   "axis": {"tickCount": {"interval": "month", "step": 3}, "labelExpr": "utcmonth(datum.value) % 6 == 0 ? utcFormat(datum.value, '%Y-%m') : ''", "labelFont": "Liberation Sans", "labelFontSize": 6.5, "labelColor": "#333333", "labelPadding": 1.5, "ticks": true, "tickSize": 2.5, "tickColor": "#333333", "tickOpacity": {"condition": {"test": "utcmonth(datum.value) % 6 == 0", "value": 1}, "value": 0}, "domain": false, "grid": true, "gridColor": "#e6e6e6", "gridWidth": {"condition": {"test": "utcmonth(datum.value) % 6 == 0", "value": 1}, "value": 0.5}, "titleFont": "Liberation Sans", "titleFontSize": 8, "titleFontWeight": "normal", "titleColor": "#000000", "titlePadding": 1.5, "labelFlush": false, "labelOverlap": false}},
  "y": {"field": "lo", "type": "quantitative", "title": "Partial effect of date",
   "scale": {"domain": [-4.26, 4.53], "nice": false, "zero": false},
   "axis": {"values": [-4,-3,-2,-1,0,1,2,3,4], "tickCount": 20, "labelExpr": "datum.value % 2 == 0 ? '' + datum.value : ''", "labelOverlap": false, "labelFont": "Liberation Sans", "labelFontSize": 6.5, "labelColor": "#333333", "labelPadding": 2, "ticks": true, "tickSize": 2.5, "tickColor": "#333333", "tickOpacity": {"condition": {"test": "datum.value % 2 == 0", "value": 1}, "value": 0}, "domain": false, "grid": true, "gridColor": "#e6e6e6", "gridWidth": {"condition": {"test": "datum.value % 2 == 0", "value": 1}, "value": 0.5}, "titleFont": "Liberation Sans", "titleFontSize": 8, "titleFontWeight": "normal", "titleColor": "#000000", "titlePadding": 3}},
  "y2": {"field": "hi"}
 }},
{"mark": {"type": "line", "color": "#111111", "strokeWidth": 1, "interpolate": "monotone"},
 "encoding": {"x": {"field": "d", "type": "temporal", "title": "Date"}, "y": {"field": "f", "type": "quantitative", "title": "Partial effect of date"}}},
{"data": {"values": [{}]},
 "mark": {"type": "text", "text": "(D)", "align": "left", "baseline": "alphabetic", "font": "Open Sans", "fontSize": 18.5, "fontWeight": "bold", "color": "#000000"},
 "encoding": {"x": {"datum": {"year":2019,"month":10,"date":7,"utc":true}, "type": "temporal"}, "y": {"datum": 4.168, "type": "quantitative"}}}
]
}
]
}
]
}
